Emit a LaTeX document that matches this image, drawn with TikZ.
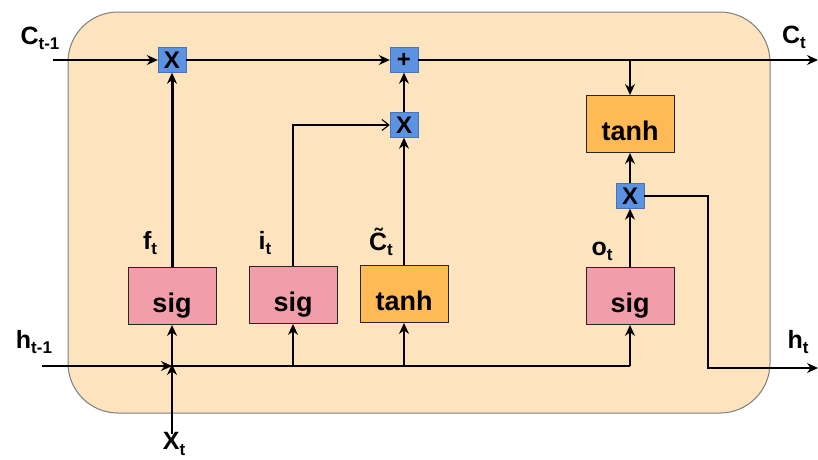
\documentclass[tikz,border=0pt]{standalone}
\usepackage{fontspec}
\setmainfont{Liberation Sans}
\usetikzlibrary{arrows.meta,positioning}
\definecolor{Peach}{RGB}{253,227,190}
\definecolor{CellEdge}{RGB}{125,125,125}
\definecolor{OpBlue}{RGB}{92,146,226}
\definecolor{OpEdge}{RGB}{70,115,185}
\definecolor{GatePink}{RGB}{242,158,170}
\definecolor{TanhOrange}{RGB}{255,185,85}
\newcommand{\sublbl}[2]{#1\raisebox{-0.4ex}{\fontsize{17}{17}\selectfont #2}}
\tikzset{
  cell/.style={draw=CellEdge,fill=Peach,line width=1pt,rounded corners=50pt},
  op/.style={draw=OpEdge,fill=OpBlue,minimum width=28pt,minimum height=25pt,inner sep=0pt,font=\fontsize{24}{24}\selectfont\bfseries},
  gate/.style={draw=black!85,fill=GatePink,line width=0.9pt,minimum width=88pt,minimum height=57pt,inner sep=0pt,text height=32pt,text depth=0pt,font=\fontsize{27}{27}\selectfont\bfseries},
  squash/.style={gate,fill=TanhOrange},
  varlabel/.style={inner sep=0pt,font=\fontsize{25}{25}\selectfont\bfseries},
  flow/.style={-{Stealth[length=11pt,width=10pt]},line width=1.3pt},
  wire/.style={line width=1.3pt},
  thickflow/.style={-{Stealth[length=11pt,width=10pt]},line width=3pt},
  openflow/.style={-{Straight Barb[length=7pt,width=11pt]},line width=1.1pt}
}
\begin{document}
\begin{tikzpicture}[x=1pt,y=-1pt]
\useasboundingbox (0,0) rectangle (818,459);
\draw[cell] (68,12) rectangle (770,413);
% operators
\node[op] (mulf) at (172,60) {X};
\node[op] (add) at (404,60) {+};
\node[op] (muli) at (404,125) {X};
\node[op] (mulo) at (630,196) {X};
% gates
\node[gate] (sigf) at (172,296) {sig};
\node[gate] (sigi) at (293,295) {sig};
\node[squash] (tanhc) at (404,294) {tanh};
\node[gate] (sigo) at (630,296) {sig};
\node[squash] (tanhh) at (630,124) {tanh};
% free ends
\coordinate (cin) at (53,60);
\coordinate (cout) at (818,60);
\coordinate (cfork) at (630,60);
\coordinate (hin) at (42,366);
\coordinate (hjoin) at (172,366);
\coordinate (hi) at (293,366);
\coordinate (hc) at (404,366);
\coordinate (ho) at (630,366);
\coordinate (xin) at (172,434);
\coordinate (hbend) at (708,196);
\coordinate (hout) at (818,368);
% cell state
\draw[flow] (cin) -- (mulf.west);
\draw[flow] (mulf.east) -- (add.west);
\draw[flow] (add.east) -- (cout);
\draw[flow] (cfork) -- (tanhh.north);
% gates to operators
\draw[thickflow] (sigf.north) -- (mulf.south);
\draw[openflow] (sigi.north) |- (muli.west);
\draw[flow] (tanhc.north) -- (muli.south);
\draw[flow] (muli.north) -- (add.south);
\draw[flow] (sigo.north) -- (mulo.south);
\draw[flow] (mulo.north) -- (tanhh.south);
\draw[flow] (mulo.east) -- (hbend) |- (hout);
% inputs
\draw[flow] (hin) -- (hjoin);
\draw[flow] (xin) -- ([yshift=2pt]hjoin);
\draw[wire] (hjoin) -- (ho);
\draw[flow] (hjoin) -- (sigf.south);
\draw[flow] (hi) -- (sigi.south);
\draw[flow] (hc) -- (tanhc.south);
\draw[flow] (ho) -- (sigo.south);
% labels
\node[varlabel] (lcin) at (40,38) {\sublbl{C}{t-1}};
\node[varlabel] (lcout) at (794,37) {\sublbl{C}{t}};
\node[varlabel] (lhin) at (34,342) {\sublbl{h}{t-1}};
\node[varlabel] (lhout) at (798,342) {\sublbl{h}{t}};
\node[varlabel] (lxin) at (174,444) {\sublbl{X}{t}};
\node[varlabel] (lf) at (150,243) {\sublbl{f}{t}};
\node[varlabel] (li) at (265,243) {\sublbl{i}{t}};
\node[varlabel] (lc) at (381,242) {\sublbl{\~{C}}{t}};
\node[varlabel] (lo) at (602,251) {\sublbl{o}{t}};
\end{tikzpicture}
\end{document}
